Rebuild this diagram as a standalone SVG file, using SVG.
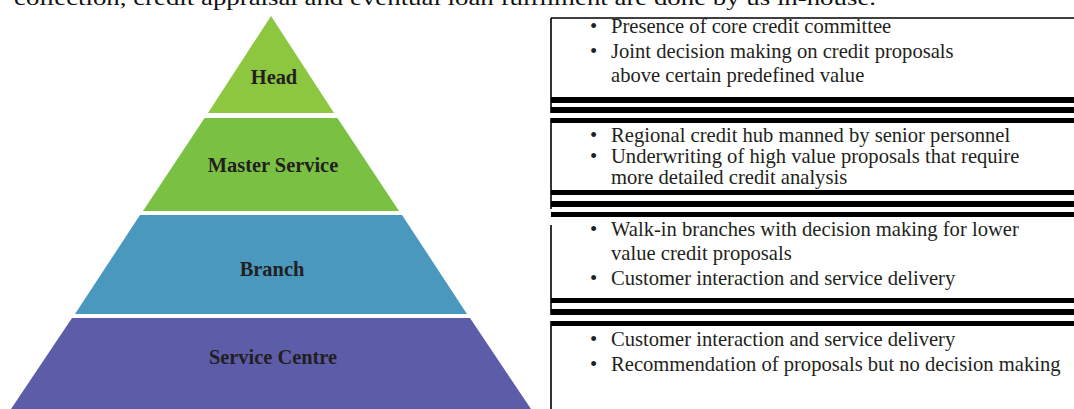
<svg xmlns="http://www.w3.org/2000/svg" width="1074" height="409" viewBox="0 0 1074 409">
<style>
.lbl{font-family:"Liberation Serif","Times New Roman",serif;font-weight:bold;font-size:20.4px;fill:#231f20;text-anchor:middle}
.txt{font-family:"Liberation Serif","Times New Roman",serif;font-size:20.6px;fill:#231f20}
.top{font-family:"Liberation Serif","Times New Roman",serif;font-size:21px;fill:#111}
.bar{fill:#000}
.edge{stroke:#000;stroke-width:1.6;fill:none}
</style>
<rect width="1074" height="409" fill="#fff"/>
<text class="top" x="14" y="5" textLength="862" lengthAdjust="spacingAndGlyphs">collection, credit appraisal and eventual loan fulfilment are done by us in-house.</text>

<g id="level-head">
<polygon points="271,16 334,113 208,113" fill="#8dc63f"/>
<text class="lbl" x="274" y="84">Head</text>
</g>
<g id="level-master">
<polygon points="204.6,118 337.4,118 399,211 143,211" fill="#7ac143"/>
<text class="lbl" x="273" y="172">Master Service</text>
</g>
<g id="level-branch">
<polygon points="140,215 402,215 467,314 75,314" fill="#4a98be"/>
<text class="lbl" x="272" y="276">Branch</text>
</g>
<g id="level-service">
<polygon points="72,318 470,318 531,409 11,409" fill="#5c5ca8"/>
<text class="lbl" x="273" y="364">Service Centre</text>
</g>

<g id="desc-head">
<line class="edge" x1="551" y1="18" x2="1074" y2="18"/>
<line class="edge" x1="551" y1="18" x2="551" y2="113"/>
<text class="txt" x="590" y="33">•</text>
<text class="txt" x="611" y="33">Presence of core credit committee</text>
<text class="txt" x="590" y="58">•</text>
<text class="txt" x="611" y="58">Joint decision making on credit proposals</text>
<text class="txt" x="611" y="82">above certain predefined value</text>
<rect class="bar" x="551" y="97" width="523" height="6"/>
<rect class="bar" x="551" y="107" width="523" height="6"/>
</g>
<g id="desc-master">
<rect class="bar" x="551" y="118" width="523" height="5"/>
<line class="edge" x1="551" y1="118" x2="551" y2="209"/>
<text class="txt" x="590" y="142">•</text>
<text class="txt" x="611" y="142">Regional credit hub manned by senior personnel</text>
<text class="txt" x="590" y="163">•</text>
<text class="txt" x="611" y="163">Underwriting of high value proposals that require</text>
<text class="txt" x="611" y="184">more detailed credit analysis</text>
<rect class="bar" x="551" y="190" width="523" height="5"/>
<rect class="bar" x="551" y="201" width="523" height="6"/>
</g>
<g id="desc-branch">
<rect class="bar" x="551" y="212" width="523" height="5"/>
<line class="edge" x1="551" y1="225" x2="551" y2="315"/>
<text class="txt" x="590" y="236">•</text>
<text class="txt" x="611" y="236">Walk-in branches with decision making for lower</text>
<text class="txt" x="611" y="260">value credit proposals</text>
<text class="txt" x="590" y="285">•</text>
<text class="txt" x="611" y="285">Customer interaction and service delivery</text>
<rect class="bar" x="551" y="298" width="523" height="5"/>
<rect class="bar" x="551" y="309" width="523" height="6"/>
</g>
<g id="desc-service">
<rect class="bar" x="551" y="321" width="523" height="5"/>
<line class="edge" x1="551" y1="321" x2="551" y2="409"/>
<text class="txt" x="590" y="346">•</text>
<text class="txt" x="611" y="346">Customer interaction and service delivery</text>
<text class="txt" x="590" y="371">•</text>
<text class="txt" x="611" y="371">Recommendation of proposals but no decision making</text>
</g>
<g id="connectors"/>
</svg>
